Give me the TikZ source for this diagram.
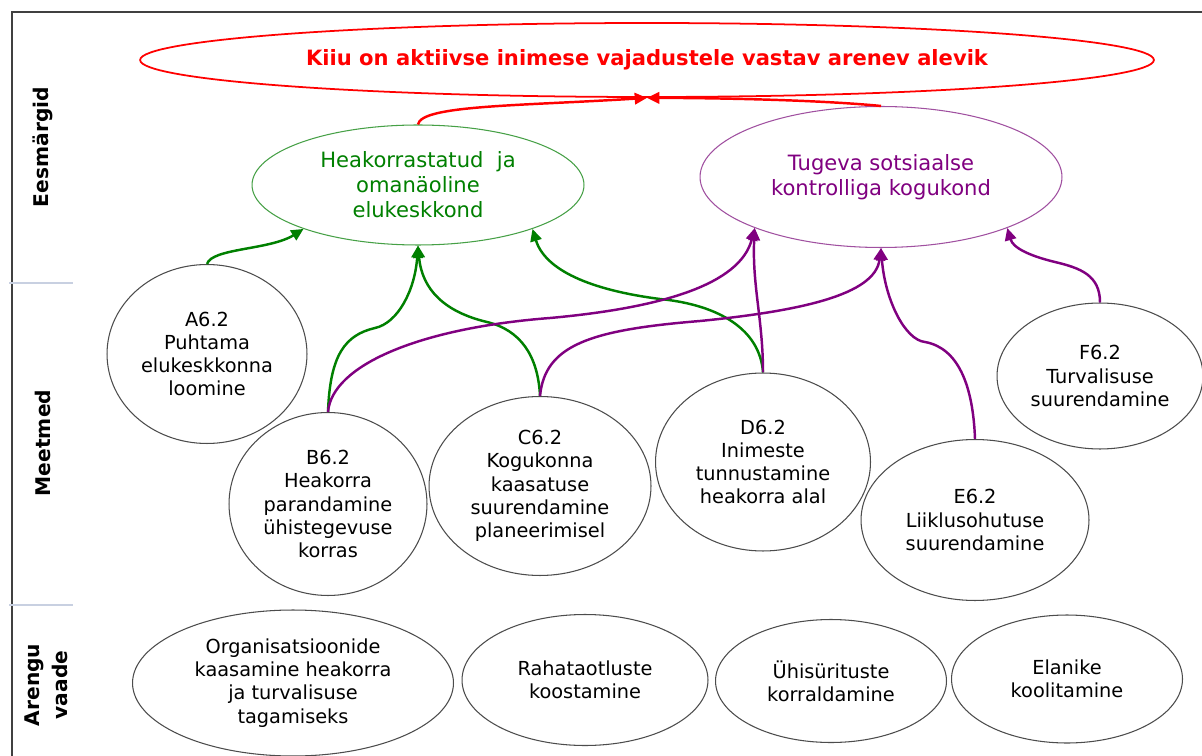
\documentclass[tikz,border=0pt]{standalone}
\usepackage{fontspec}
\setmainfont{DejaVu Sans}
\usetikzlibrary{shapes.geometric,arrows.meta}

\definecolor{grn}{RGB}{0,128,0}
\definecolor{prp}{RGB}{128,0,128}
\definecolor{grnline}{RGB}{70,160,70}
\definecolor{prpline}{RGB}{160,80,160}
\definecolor{sepline}{RGB}{200,208,225}

\tikzset{
  meas/.style={ellipse, draw=black!70, line width=0.6pt, inner sep=0pt, align=center,
    font=\fontsize{11}{13.2}\selectfont},
  goal/.style={ellipse, line width=0.6pt, inner sep=0pt, align=center,
    font=\fontsize{12}{14.2}\selectfont},
  side/.style={rotate=90, align=center, font=\bfseries\fontsize{11.5}{16}\selectfont},
  glink/.style={draw=grn, line width=1.4pt, -{Triangle[length=7pt,width=6.5pt]}},
  plink/.style={draw=prp, line width=1.4pt, -{Triangle[length=7pt,width=6.5pt]}},
  rlink/.style={draw=red, line width=1.4pt, -{Triangle[length=7pt,width=6.5pt]}}
}

\begin{document}
\begin{tikzpicture}[x=0.02cm, y=-0.02cm]
  \useasboundingbox[fill=white] (0,0) rectangle (1202,756);
  % \draw[step=100,thin,gray!40] (0,0) grid (1202,756);

  % frame and row separators
  \draw[black!75, line width=0.6pt] (12,756) -- (12,12) -- (1202,12);
  \draw[sepline, line width=0.6pt] (9,283) -- (73,283);
  \draw[sepline, line width=0.6pt] (9,605) -- (73,605);

  \node[side] (rowGoals) at (43,147) {Eesmärgid};
  \node[side] (rowMeas) at (43,443) {Meetmed};
  \node[side] (rowView) at (46,685) {Arengu\\vaade};

  % goals
  \node[ellipse, draw=red, line width=1pt, minimum width=20.28cm, minimum height=1.48cm,
        text=red, font=\bfseries\fontsize{12}{14}\selectfont] (R) at (647,60)
        {Kiiu on aktiivse inimese vajadustele vastav arenev alevik};
  \node[goal, draw=grnline, text=grn, minimum width=6.64cm, minimum height=2.4cm] (G) at (418,185)
        {Heakorrastatud\ \ ja\\omanäoline\\elukeskkond};
  \node[goal, draw=prpline, text=prp, minimum width=7.24cm, minimum height=2.82cm] (P) at (881,177)
        {Tugeva sotsiaalse\\kontrolliga kogukond};

  % measures
  \node[meas, minimum width=4.0cm, minimum height=3.58cm] (A) at (207,354)
        {A6.2\\Puhtama\\elukeskkonna\\loomine};
  \node[meas, minimum width=3.96cm, minimum height=3.66cm] (B) at (328,504)
        {B6.2\\Heakorra\\parandamine\\ühistegevuse\\korras};
  \node[meas, minimum width=4.44cm, minimum height=3.58cm] (C) at (540,486)
        {C6.2\\Kogukonna\\kaasatuse\\suurendamine\\planeerimisel};
  \node[meas, minimum width=4.3cm, minimum height=3.56cm] (D) at (763,462)
        {D6.2\\Inimeste\\tunnustamine\\heakorra alal};
  \node[meas, minimum width=4.56cm, minimum height=3.22cm] (E) at (975,520)
        {E6.2\\Liiklusohutuse\\suurendamine};
  \node[meas, minimum width=4.12cm, minimum height=2.92cm] (F) at (1100,376)
        {F6.2\\Turvalisuse\\suurendamine};

  % development view
  \node[meas, minimum width=6.42cm, minimum height=2.92cm] (Org) at (293,683)
        {Organisatsioonide\\kaasamine heakorra\\ja turvalisuse\\tagamiseks};
  \node[meas, minimum width=4.92cm, minimum height=2.62cm] (Raha) at (585,680)
        {Rahataotluste\\koostamine};
  \node[meas, minimum width=4.62cm, minimum height=2.46cm] (Yhis) at (831,681)
        {Ühisürituste\\korraldamine};
  \node[meas, minimum width=4.62cm, minimum height=2.56cm] (Elan) at (1067,679)
        {Elanike\\koolitamine};

  % links to the green goal
  \draw[glink] (A.north) .. controls (212,248) and (270,250) .. (G.201);
  \draw[glink] (B.north) .. controls (330,355) and (345,335) .. (375,328)
                         .. controls (398,323) and (415,290) .. (G.south);
  \draw[glink] (C.north) .. controls (538,355) and (520,330) .. (487,322)
                         .. controls (445,312) and (422,290) .. (G.south);
  \draw[glink] (D.north) .. controls (760,330) and (720,305) .. (660,299)
                         .. controls (590,290) and (545,270) .. (G.339);

  % links to the purple goal
  \draw[plink] (B.north) .. controls (332,365) and (420,328) .. (550,318)
                         .. controls (660,308) and (740,285) .. (P.202);
  \draw[plink] (D.north) .. controls (763,320) and (752,285) .. (P.202);
  \draw[plink] (C.north) .. controls (545,345) and (590,330) .. (700,321)
                         .. controls (800,311) and (875,295) .. (P.south);
  \draw[plink] (E.north) .. controls (973,385) and (958,348) .. (925,342)
                         .. controls (905,340) and (885,300) .. (P.south);
  \draw[plink] (F.north) .. controls (1100,275) and (1080,268) .. (1055,262)
                         .. controls (1030,256) and (1013,248) .. (P.338);

  % links to the main goal
  \draw[rlink] (G.north) .. controls (421,105) and (520,106) .. (R.south);
  \draw[rlink] (P.north) .. controls (820,100) and (720,98) .. (R.south);
\end{tikzpicture}
\end{document}
